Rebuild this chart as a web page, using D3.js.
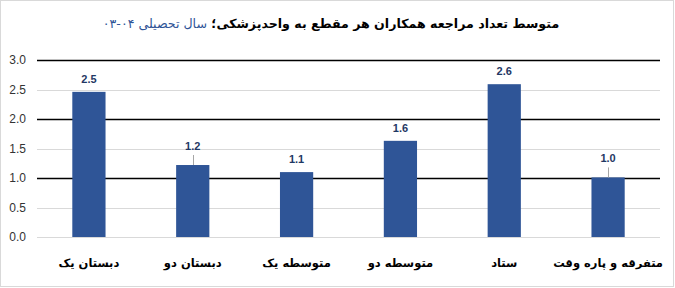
<!DOCTYPE html>
<html>
<head>
<meta charset="utf-8">
<script src="https://cdn.jsdelivr.net/npm/d3@7"></script>
<style>
  body { margin: 0; background: #fff; }
</style>
</head>
<body>
<svg id="chart" width="675" height="288"></svg>
<script>
// average visits per staff group to the medical unit

const categories = ["دبستان یک", "دبستان دو", "متوسطه یک", "متوسطه دو", "ستاد", "متفرقه و پاره وقت"];
const values = [2.46, 1.22, 1.10, 1.63, 2.59, 1.01];
const yTicks = [0, 0.5, 1, 1.5, 2, 2.5, 3];
const titleMain = "متوسط تعداد مراجعه همکاران هر مقطع به واحدپزشکی؛ ";
const titleSub = "سال تحصیلی ۰۴-۰۳";

// labels that excel pushed up, with a leader line
const leaderNudge = { "دبستان دو": 6, "متفرقه و پاره وقت": 6 };

const WIDTH = 675;
const HEIGHT = 288;
const BAR_COLOR = "#2f5597";
const LABEL_COLOR = "#1f3864";

const svg = d3.select("#chart");

svg.append("rect")
  .attr("x", 0.5).attr("y", 0.5)
  .attr("width", WIDTH - 2).attr("height", HEIGHT - 2)
  .style("fill", "#fff")
  .style("stroke", "#d9d9d9");

const x = d3.scaleBand()
  .domain(categories)
  .range([37, 660])
  .paddingInner(0.68)
  .paddingOuter(0.34);

const y = d3.scaleLinear()
  .domain([0, 3])
  .range([237, 60]);

// grid lines: whole numbers black, halves light gray
const grid = svg.append("g");
yTicks.forEach(function (t) {
  const major = t > 0 && Number.isInteger(t);
  grid.append("line")
    .attr("x1", 37).attr("x2", 660)
    .attr("y1", Math.round(y(t)) + 0.5).attr("y2", Math.round(y(t)) + 0.5)
    .style("stroke", major ? "#000" : "#d9d9d9")
    .style("stroke-width", major ? 1.3 : 1);
});

// y axis labels
const yAxis = svg.append("g")
  .attr("transform", "translate(30,0)")
  .call(d3.axisLeft(y).tickValues(yTicks).tickFormat(d3.format(".1f")).tickSize(0).tickPadding(4));
yAxis.select(".domain").remove();
yAxis.selectAll("text")
  .style("font-family", "'Liberation Sans', Arial, sans-serif")
  .style("font-size", "12px")
  .style("fill", "#333");

// x axis labels
const xAxis = svg.append("g")
  .attr("transform", "translate(0,255)")
  .call(d3.axisBottom(x).tickSize(0).tickPadding(4));
xAxis.select(".domain").remove();
xAxis.selectAll("text")
  .attr("direction", "rtl")
  .style("font-family", "'DejaVu Sans', sans-serif")
  .style("font-size", "11.5px")
  .style("font-weight", "bold")
  .style("fill", "#000");

// bars
svg.append("g")
  .selectAll("rect")
  .data(categories)
  .join("rect")
  .attr("x", d => x(d))
  .attr("width", x.bandwidth())
  .attr("y", (d, i) => y(values[i]))
  .attr("height", (d, i) => y(0) - y(values[i]))
  .style("fill", BAR_COLOR);

// value labels
const labels = svg.append("g");
categories.forEach(function (c, i) {
  const cx = x(c) + x.bandwidth() / 2;
  const top = y(values[i]);
  const nudge = leaderNudge[c] || 0;
  if (nudge) {
    labels.append("line")
      .attr("x1", Math.round(cx) + 0.5).attr("x2", Math.round(cx) + 0.5)
      .attr("y1", top - 10).attr("y2", top)
      .style("stroke", "#a6a6a6");
  }
  labels.append("text")
    .attr("x", cx)
    .attr("y", top - 9 - nudge)
    .attr("text-anchor", "middle")
    .text(d3.format(".1f")(values[i]))
    .style("font-family", "'Liberation Sans', Arial, sans-serif")
    .style("font-size", "11px")
    .style("font-weight", "bold")
    .style("fill", LABEL_COLOR);
});

// title
const title = svg.append("text")
  .attr("x", 331)
  .attr("y", 28)
  .attr("text-anchor", "middle")
  .attr("direction", "rtl")
  .style("font-family", "'DejaVu Sans', sans-serif")
  .style("font-size", "12.6px");
title.append("tspan")
  .text(titleMain)
  .style("font-weight", "bold")
  .style("fill", "#000");
title.append("tspan")
  .text(titleSub)
  .style("fill", "#2f5597");
</script>
</body>
</html>
